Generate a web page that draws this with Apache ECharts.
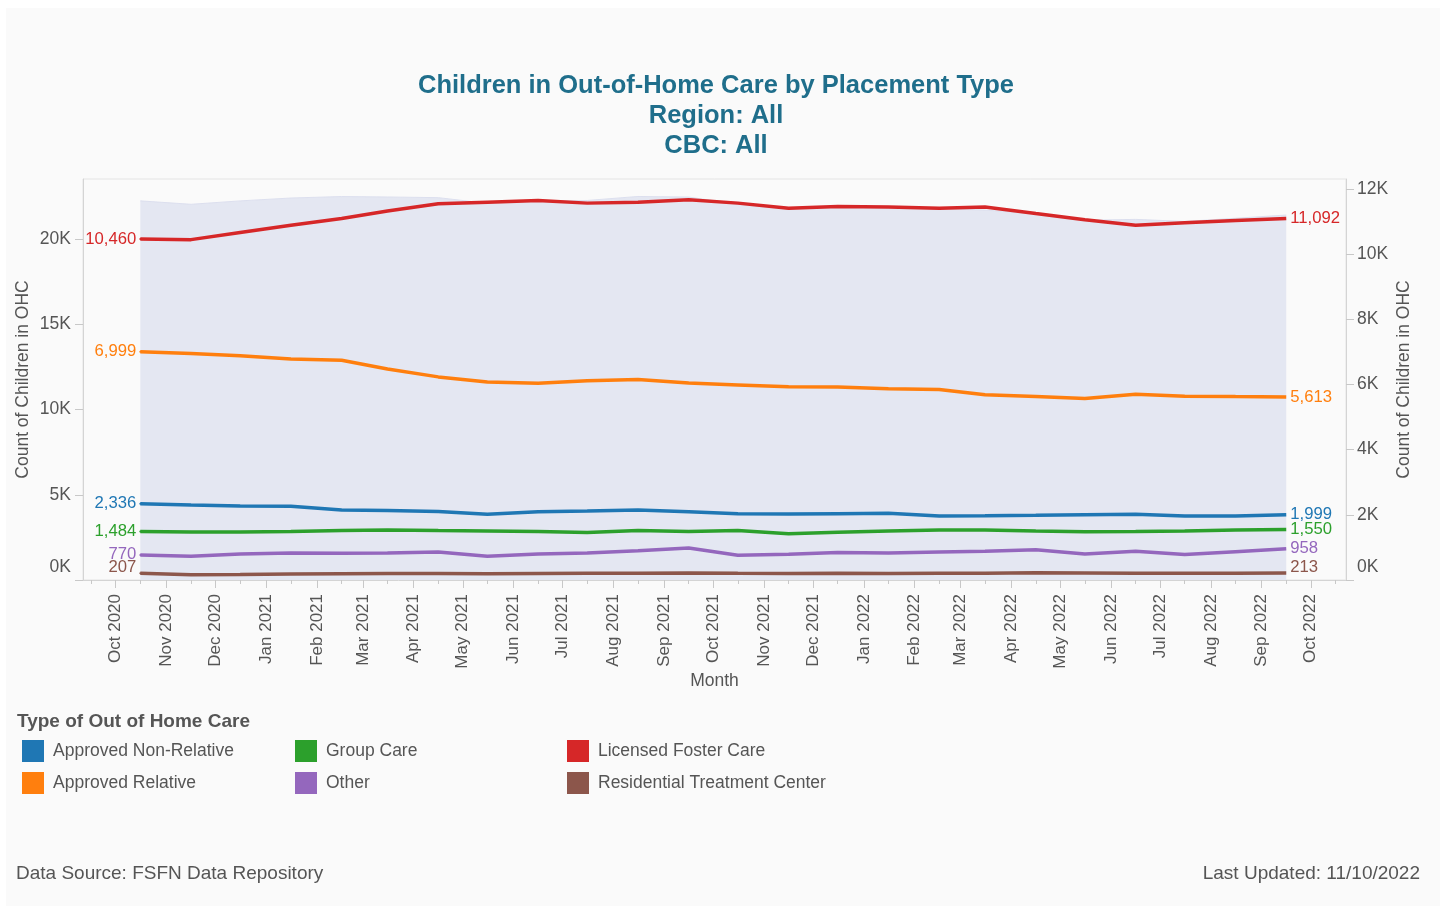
<!DOCTYPE html>
<html><head><meta charset="utf-8">
<script src="https://cdn.jsdelivr.net/npm/echarts@6/dist/echarts.min.js"></script>
<style>
html,body{margin:0;padding:0;background:#ffffff;}
#panel{position:absolute;left:6px;top:8px;width:1434px;height:898px;background:#fafafa;}
#chart{position:absolute;left:0;top:0;width:1449px;height:906px;}
</style></head><body>
<div id="panel"></div><div id="chart"></div>
<script>
// ---- data ----
const months = ['2020-10','2020-11','2020-12','2021-01','2021-02','2021-03','2021-04','2021-05','2021-06','2021-07','2021-08','2021-09',
                '2021-10','2021-11','2021-12','2022-01','2022-02','2022-03','2022-04','2022-05','2022-06','2022-07','2022-08','2022-09'];
const tickLabels = ['Oct 2020','Nov 2020','Dec 2020','Jan 2021','Feb 2021','Mar 2021','Apr 2021','May 2021','Jun 2021','Jul 2021','Aug 2021','Sep 2021',
                    'Oct 2021','Nov 2021','Dec 2021','Jan 2022','Feb 2022','Mar 2022','Apr 2022','May 2022','Jun 2022','Jul 2022','Aug 2022','Sep 2022','Oct 2022'];
const leftTicks = [0, 5000, 10000, 15000, 20000];
const rightTicks = [0, 2000, 4000, 6000, 8000, 10000, 12000];

const approvedNonRelative = [2336,2300,2270,2265,2150,2130,2100,2020,2095,2115,2150,2095,2030,2025,2035,2045,1965,1970,1985,2000,2015,1960,1965,1999];
const approvedRelative    = [6999,6950,6880,6780,6740,6470,6230,6070,6035,6110,6150,6040,5985,5925,5920,5870,5840,5680,5625,5570,5700,5640,5625,5613];
const groupCare           = [1484,1475,1475,1484,1515,1535,1515,1505,1490,1460,1515,1490,1515,1420,1465,1505,1535,1535,1505,1480,1485,1505,1535,1550];
const licensedFosterCare  = [10460,10440,10660,10880,11090,11320,11540,11590,11640,11560,11590,11660,11560,11400,11460,11440,11400,11440,11240,11050,10880,10960,11030,11092];
const other               = [770,730,800,830,820,830,860,730,800,830,900,980,760,790,840,830,860,880,930,800,880,780,870,958];
const residentialTreatment= [207,160,170,185,195,200,200,195,200,205,210,215,205,200,205,200,205,210,220,215,210,205,210,213];

// ---- helpers ----
const MON = {Jan:0,Feb:1,Mar:2,Apr:3,May:4,Jun:5,Jul:6,Aug:7,Sep:8,Oct:9,Nov:10,Dec:11};
const tickTimes = tickLabels.map(s => { const p = s.split(' '); return new Date(+p[1], MON[p[0]], 1).getTime(); });
const pointTimes = months.map(m => { const p = m.split('-'); return new Date(+p[0], +p[1] - 1, 16).getTime(); });
const minorTimes = [new Date(2020, 8, 16).getTime()].concat(pointTimes, [new Date(2022, 9, 16).getTime()]);
const xMin = new Date(2020, 8, 11).getTime();
const xMax = new Date(2022, 9, 22, 12).getTime();
const fmt = v => Math.round(v).toLocaleString('en-US');
const FONT = '"Liberation Sans", Arial, sans-serif';
const GRAY = '#555555';

const seriesDefs = [
  {name:'Approved Non-Relative', data:approvedNonRelative, color:'#1f77b4', dy:0},
  {name:'Approved Relative', data:approvedRelative, color:'#ff7f0e', dy:0},
  {name:'Group Care', data:groupCare, color:'#2ca02c', dy:0},
  {name:'Licensed Foster Care', data:licensedFosterCare, color:'#d62728', dy:0},
  {name:'Other', data:other, color:'#9467bd', dy:0},
  {name:'Residential Treatment Center', data:residentialTreatment, color:'#8c564b', dy:-6}
];

const totals = months.map((m, i) => [pointTimes[i], seriesDefs.reduce((s, d) => s + d.data[i], 0)]);

const lineSeries = seriesDefs.map(d => ({
  type:'line', name:d.name, xAxisIndex:0, yAxisIndex:1, symbol:'none', showSymbol:true, z:5,
  lineStyle:{width:3.5, color:d.color}, itemStyle:{color:d.color},
  emphasis:{disabled:true},
  data: d.data.map((v, i) => i === 0
    ? {value:[pointTimes[i], v], symbol:'circle', symbolSize:2,
       label:{show:true, position:'left', distance:3, offset:[0, d.dy], color:d.color,
        fontSize:16.7, fontFamily:FONT, formatter: p => fmt(p.value[1])}}
    : [pointTimes[i], v]),
  endLabel:{show:true, distance:4, offset:[0, d.dy], color:d.color, fontSize:16.7, fontFamily:FONT,
    formatter: p => fmt(p.value[1])}
}));

const zeroRich = {z:{padding:[0,0,25,0], fontSize:17.5, color:GRAY, fontFamily:FONT}};
const kFmt = v => v === 0 ? '{z|0K}' : (v / 1000) + 'K';
const monthFmt = v => { let best = 0; tickTimes.forEach((t, i) => { if (Math.abs(t - v) < Math.abs(tickTimes[best] - v)) best = i; }); return tickLabels[best]; };

const chart = echarts.init(document.getElementById('chart'), null, {renderer:'canvas'});
chart.setOption({
  animation:false,
  backgroundColor:'transparent',
  textStyle:{fontFamily:FONT},
  grid:{left:83, right:103, top:179, bottom:326, show:true, borderColor:'#e4e4e4', borderWidth:1,
        backgroundColor:'transparent', outerBoundsMode:'none'},
  graphic:[
    {type:'text', x:716, y:116, silent:true, style:{text:'Children in Out-of-Home Care by Placement Type\nRegion: All\nCBC: All',
      font:'bold 25.5px ' + FONT, fill:'#1f6e8b', align:'center', textAlign:'center', verticalAlign:'middle', textVerticalAlign:'middle', lineHeight:30}},
    {type:'text', x:17, y:722, silent:true, style:{text:'Type of Out of Home Care', font:'bold 19px ' + FONT, fill:GRAY,
      align:'left', textAlign:'left', verticalAlign:'middle', textVerticalAlign:'middle'}},
    {type:'text', x:16, y:874, silent:true, style:{text:'Data Source: FSFN Data Repository', font:'19px ' + FONT, fill:GRAY,
      align:'left', textAlign:'left', verticalAlign:'middle', textVerticalAlign:'middle'}},
    {type:'text', x:1420, y:874, silent:true, style:{text:'Last Updated: 11/10/2022', font:'19px ' + FONT, fill:GRAY,
      align:'right', textAlign:'right', verticalAlign:'middle', textVerticalAlign:'middle'}}
  ],
  legend:[
    {data:['Approved Non-Relative','Approved Relative'], left:22, top:740},
    {data:['Group Care','Other'], left:295, top:740},
    {data:['Licensed Foster Care','Residential Treatment Center'], left:567, top:740}
  ].map(l => Object.assign(l, {orient:'vertical', padding:0, itemWidth:22, itemHeight:22, itemGap:10, icon:'rect',
      selectedMode:false, textStyle:{fontSize:17.5, color:GRAY, fontFamily:FONT, padding:[0,0,0,4]}})),
  xAxis:[
    {type:'value', min:xMin, max:xMax, position:'bottom', scale:true,
     axisLine:{show:true, lineStyle:{color:'#d4d4d4'}},
     axisTick:{show:true, customValues:tickTimes, length:8, lineStyle:{color:'#c8c8c8'}},
     axisLabel:{customValues:tickTimes, rotate:90, fontSize:17, color:GRAY, fontFamily:FONT, margin:14, hideOverlap:false,
       formatter: monthFmt},
     splitLine:{show:false},
     name:'Month', nameLocation:'middle', nameGap:92, nameMoveOverlap:false,
     nameTextStyle:{fontSize:17.5, color:GRAY, fontFamily:FONT}},
    {type:'value', min:xMin, max:xMax, position:'bottom', scale:true,
     axisLine:{show:false}, axisLabel:{show:false}, splitLine:{show:false},
     axisTick:{show:true, customValues:minorTimes, length:4, lineStyle:{color:'#c8c8c8'}}}
  ],
  yAxis:[
    {type:'value', position:'left', min:0, max:23540, interval:5000,
     axisLine:{show:true, lineStyle:{color:'#d4d4d4'}},
     axisTick:{show:true, customValues:leftTicks, length:8, lineStyle:{color:'#c8c8c8'}},
     axisLabel:{customValues:leftTicks, formatter:kFmt, rich:zeroRich, fontSize:17.5, color:GRAY, fontFamily:FONT, margin:12},
     splitLine:{show:false},
     name:'Count of Children in OHC', nameLocation:'middle', nameGap:51, nameRotate:90, nameMoveOverlap:false,
     nameTextStyle:{fontSize:17.5, color:GRAY, fontFamily:FONT}},
    {type:'value', position:'right', min:0, max:12300, interval:2000,
     axisLine:{show:true, lineStyle:{color:'#d4d4d4'}},
     axisTick:{show:true, customValues:rightTicks, length:8, lineStyle:{color:'#c8c8c8'}},
     axisLabel:{customValues:rightTicks, formatter:kFmt, rich:zeroRich, fontSize:17.5, color:GRAY, fontFamily:FONT, margin:11},
     splitLine:{show:false},
     name:'Count of Children in OHC', nameLocation:'middle', nameGap:49, nameRotate:90, nameMoveOverlap:false,
     nameTextStyle:{fontSize:17.5, color:GRAY, fontFamily:FONT}}
  ],
  series:[
    {type:'line', name:'Total', xAxisIndex:0, yAxisIndex:0, data:totals, symbol:'none', silent:true, z:1,
     lineStyle:{width:1, color:'#dcdfee'}, areaStyle:{color:'#e4e7f2', opacity:1}, emphasis:{disabled:true}}
  ].concat(lineSeries)
});
</script>
</body></html>
